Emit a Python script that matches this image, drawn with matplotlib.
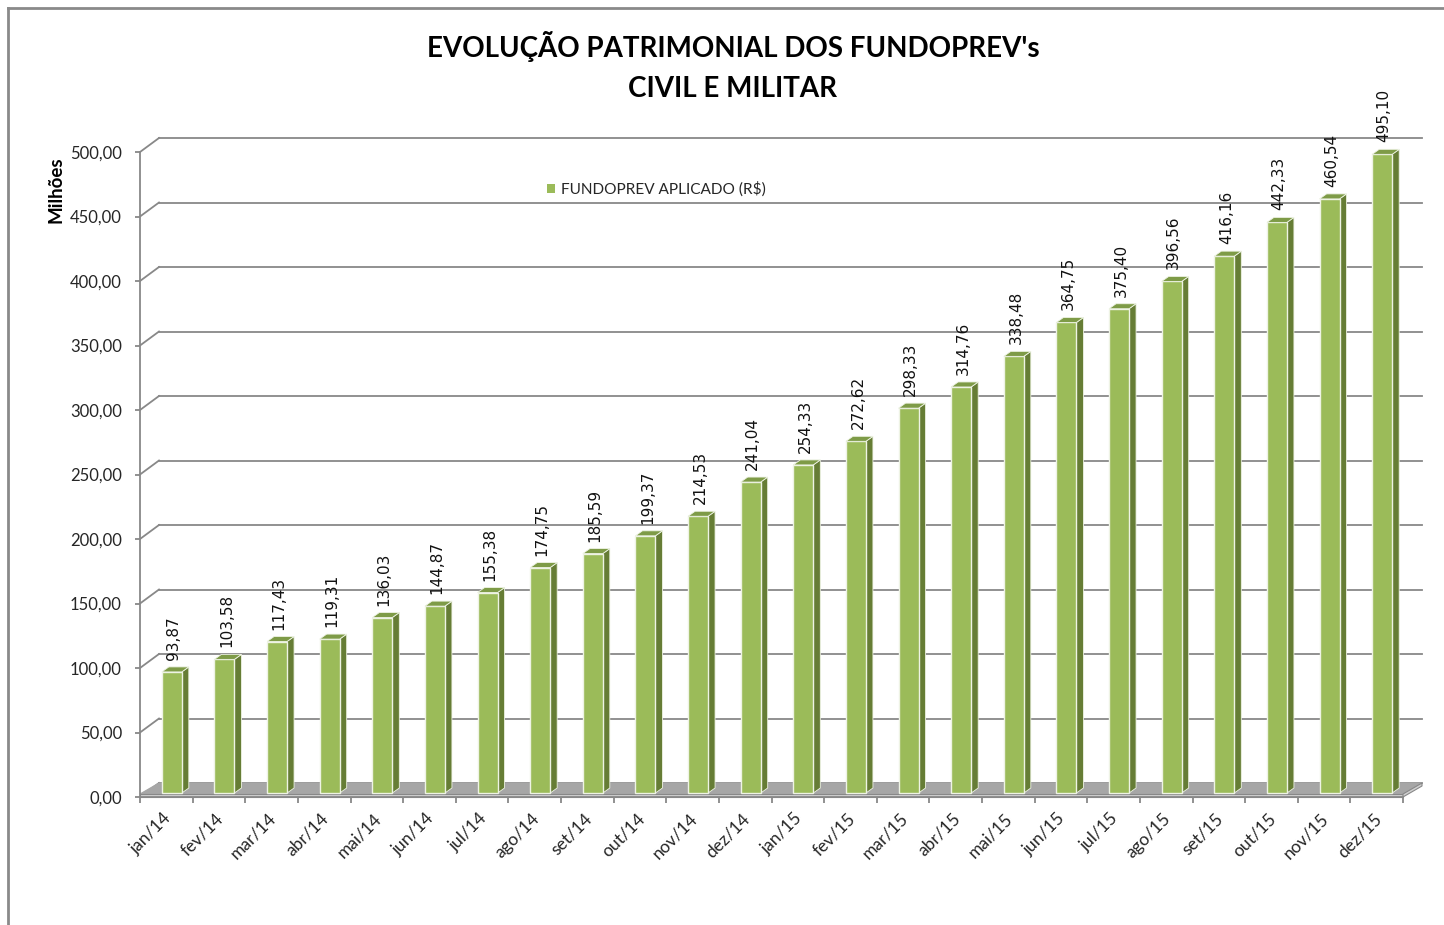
import matplotlib
matplotlib.use('Agg')
import matplotlib.pyplot as plt
from matplotlib.patches import Polygon, Patch
from matplotlib.lines import Line2D
import matplotlib.transforms as mtransforms

# ---------------- data ----------------
months = ['jan/14', 'fev/14', 'mar/14', 'abr/14', 'mai/14', 'jun/14', 'jul/14', 'ago/14',
          'set/14', 'out/14', 'nov/14', 'dez/14', 'jan/15', 'fev/15', 'mar/15', 'abr/15',
          'mai/15', 'jun/15', 'jul/15', 'ago/15', 'set/15', 'out/15', 'nov/15', 'dez/15']
values = [93.87, 103.58, 117.43, 119.31, 136.03, 144.87, 155.38, 174.75,
          185.59, 199.37, 214.53, 241.04, 254.33, 272.62, 298.33, 314.76,
          338.48, 364.75, 375.40, 396.56, 416.16, 442.33, 460.54, 495.10]
yticks = [0, 50, 100, 150, 200, 250, 300, 350, 400, 450, 500]
series_name = 'FUNDOPREV APLICADO (R$)'
title_text = "EVOLUÇÃO PATRIMONIAL DOS FUNDOPREV's\nCIVIL E MILITAR"
ylabel_text = 'Milhões'

def br(v):
    return f'{v:.2f}'.replace('.', ',')

# ---------------- styles ----------------
FRONT = '#9BBB59'
SIDE = '#667D35'
TOP = '#7E9B47'
GRID = '#888888'
FLOOR = '#A6A6A6'
FLOOR_EDGE = '#D0D0D0'
TXT = '#262626'

W, H = 1444, 925
fig = plt.figure(figsize=(W / 100, H / 100), dpi=100)
L, R, B, T = 140, 1403, 797, 152
ax = fig.add_axes([L / W, 1 - B / H, (R - L) / W, (B - T) / H])
n = len(months)
ax.set_xlim(0, n)
ax.set_ylim(0, 500)
ppx = (R - L) / n
ppy = (B - T) / 500.0

def dxd(p):
    return p / ppx

def dyd(p):
    return p / ppy

# back wall / side wall gridlines
WX, WY = 19, 14
for v in yticks:
    ax.add_line(Line2D([dxd(WX), n + dxd(WX)], [v + dyd(WY)] * 2, color=GRID, lw=1.3,
                       clip_on=False, zorder=1))
    ax.add_line(Line2D([0, dxd(WX)], [v, v + dyd(WY)], color=GRID, lw=1.3,
                       clip_on=False, zorder=1))

# floor
ax.add_patch(Polygon([(0, dyd(3)), (n, dyd(3)), (n + dxd(WX), dyd(WY)), (dxd(WX), dyd(WY))],
                     closed=True, facecolor=FLOOR, edgecolor=FLOOR, lw=0.8,
                     clip_on=False, zorder=2))
ax.add_patch(Polygon([(0, 0), (n, 0), (n, dyd(3)), (0, dyd(3))], closed=True,
                     facecolor=FLOOR_EDGE, edgecolor=GRID, lw=0.8, clip_on=False, zorder=2))
ax.add_patch(Polygon([(n, 0), (n + dxd(WX), dyd(WY - 3)), (n + dxd(WX), dyd(WY)), (n, dyd(3))],
                     closed=True, facecolor=FLOOR_EDGE, edgecolor=GRID, lw=0.8,
                     clip_on=False, zorder=2))

# bars (front plane set slightly into the depth)
bar_tr = ax.transData + mtransforms.ScaledTranslation(5.5 / 100, 4 / 100, fig.dpi_scale_trans)
bw = 0.38
xc = [i + 0.5 for i in range(n)]
bars = ax.bar(xc, values, width=bw, color=FRONT, edgecolor='#EEF3E4', linewidth=1.0,
              zorder=4, clip_on=False)
for b in bars:
    b.set_transform(bar_tr)

DX, DY = dxd(7), dyd(5)
for x, v in zip(xc, values):
    xr = x + bw / 2
    xl = x - bw / 2
    side = Polygon([(xr, 0), (xr + DX, DY), (xr + DX, v + DY), (xr, v)], closed=True,
                   facecolor=SIDE, edgecolor='#EEF3E4', lw=0.6, transform=bar_tr,
                   clip_on=False, zorder=3)
    top = Polygon([(xl, v), (xr, v), (xr + DX, v + DY), (xl + DX, v + DY)], closed=True,
                  facecolor=TOP, edgecolor='#EEF3E4', lw=0.6, transform=bar_tr,
                  clip_on=False, zorder=5)
    ax.add_patch(side)
    ax.add_patch(top)
    ax.annotate(br(v), xy=(x, v), xycoords=bar_tr, xytext=(2, 12),
                textcoords='offset pixels', rotation=90, ha='center', va='bottom',
                fontsize=11, family='DejaVu Sans', color='#111111', zorder=6)

# axes styling
for s in ['top', 'right']:
    ax.spines[s].set_visible(False)
for s in ['left', 'bottom']:
    ax.spines[s].set_color(GRID)
    ax.spines[s].set_linewidth(1.3)
    ax.spines[s].set_zorder(3)
ax.set_facecolor('none')

ax.set_yticks(yticks)
ax.set_yticklabels([br(v) for v in yticks], family='Lato', fontsize=12, color=TXT)
ax.tick_params(axis='y', length=3.6, width=1.3, color=GRID, pad=9.4, direction='out')

ax.set_xticks(range(n + 1))
ax.set_xticklabels([''] * (n + 1))
ax.tick_params(axis='x', which='major', length=4.3, width=1.3, color=GRID, direction='out')
ax.set_xticks([x + dxd(2) for x in xc], minor=True)
ax.set_xticklabels(months, minor=True, family='Lato', fontsize=12.5, color=TXT,
                   rotation=45, ha='right', va='center', rotation_mode='anchor')
ax.tick_params(axis='x', which='minor', length=0, pad=13.7)

# title, y label, legend
fig.text(733 / W, 1 - 66.5 / H, title_text, ha='center', va='center', family='Lato',
         fontweight='bold', fontsize=20, color='#000000', linespacing=1.7)
fig.text(56 / W, 1 - 190 / H, ylabel_text, rotation=90, ha='center', va='center',
         family='Lato', fontweight='bold', fontsize=13.5, color='#000000')
handle = Patch(facecolor=FRONT, edgecolor='none')
fig.legend(handles=[handle], labels=[series_name], loc='center left',
           bbox_to_anchor=(536 / W, 1 - 189 / H), frameon=False, handlelength=0.55,
           handleheight=0.55, handletextpad=0.4, borderpad=0.2,
           prop={'family': 'Lato', 'size': 11.1}, labelcolor=TXT)

# outer frame (left and top edges)
fig.add_artist(Line2D([8 / W, 8 / W], [0, 1 - 8 / H], transform=fig.transFigure,
                      color='#8A8A8A', lw=2))
fig.add_artist(Line2D([8 / W, 1], [1 - 8 / H, 1 - 8 / H], transform=fig.transFigure,
                      color='#8A8A8A', lw=2))

fig.savefig('out.png', dpi=100, facecolor='white')
